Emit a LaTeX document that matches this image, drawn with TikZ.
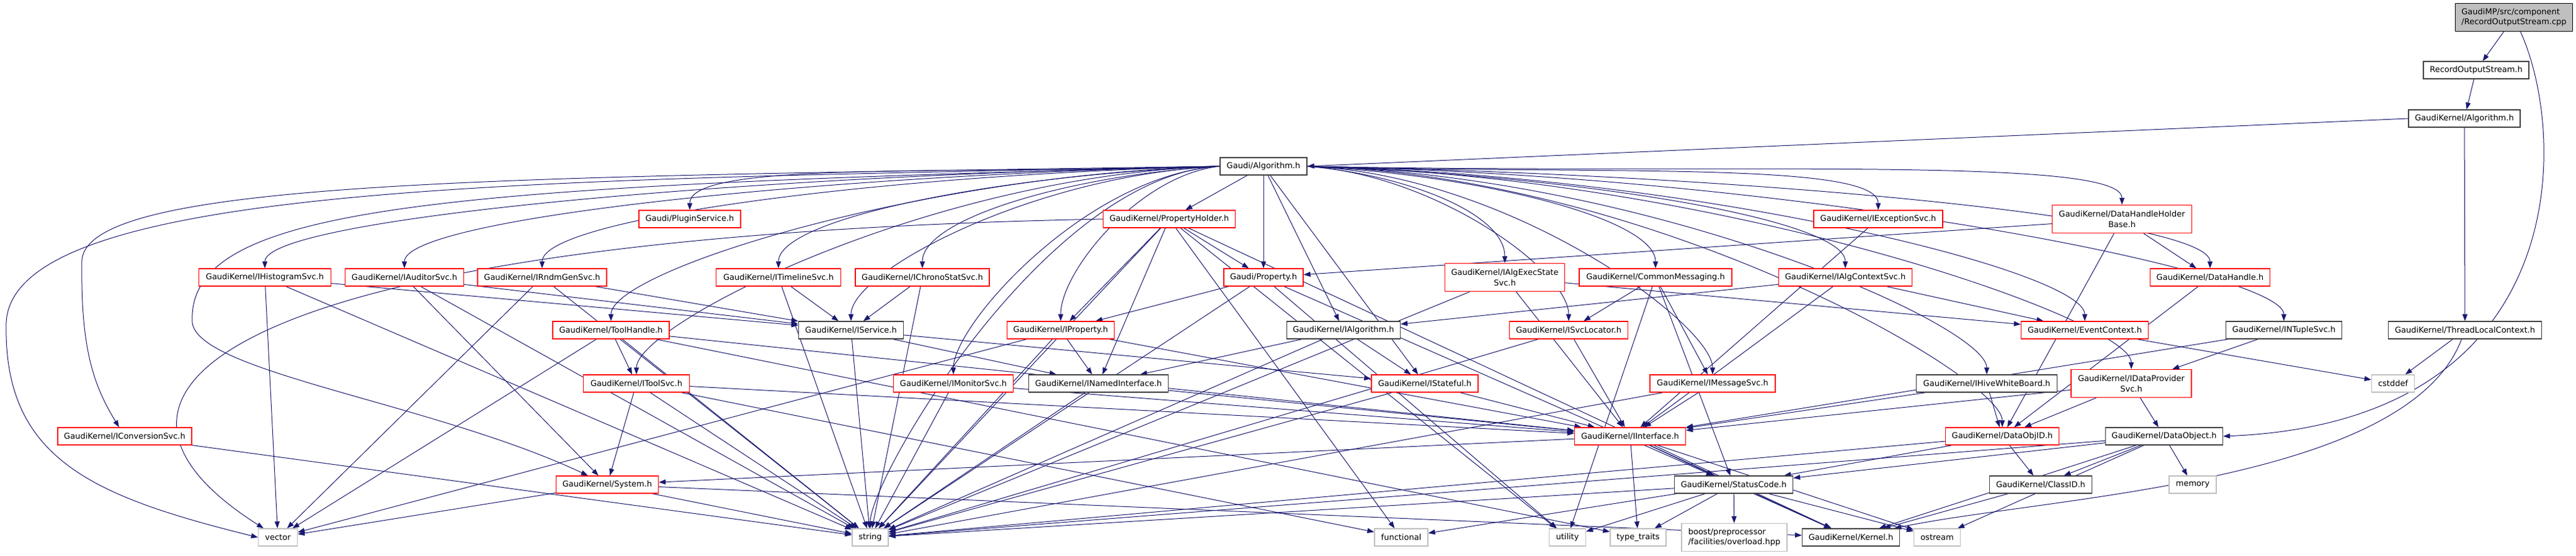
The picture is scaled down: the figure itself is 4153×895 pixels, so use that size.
\documentclass[tikz,border=0pt]{standalone}
\usepackage{fontspec}
\setmainfont{DejaVu Sans}
\usetikzlibrary{arrows.meta}
\definecolor{edgec}{HTML}{191970}
\definecolor{redb}{HTML}{FF0000}
\definecolor{blkb}{HTML}{404040}
\definecolor{gryb}{HTML}{BFBFBF}
\pgfdeclarelayer{bg}
\pgfdeclarelayer{paper}
\pgfsetlayers{paper,bg,main}
\newcommand\galeft[2]{\draw[e] (ga.west) .. controls +(-#2,14) and +(0,-80) .. (#1.north);}
\newcommand\garight[2]{\draw[e] (ga.east) .. controls +(#2,14) and +(0,-80) .. (#1.north);}
\begin{document}
\begin{tikzpicture}[x=1pt,y=-1pt,
  box/.style={rectangle, draw, fill=white, line width=1.3pt, inner sep=0pt, minimum height=28pt, font=\fontsize{13}{16.5}\selectfont, align=center},
  rn/.style={box, draw=redb},
  bn/.style={box, draw=blkb},
  gn/.style={box, draw=gryb},
  e/.style={draw=edgec, line width=1pt, -{Triangle[length=11pt,width=8pt]}}]
\begin{pgfonlayer}{paper}
\fill[white] (0,0) rectangle (4153,895);
\end{pgfonlayer}
\useasboundingbox (0,0) rectangle (4153,895);
% rank 0-3
\node[box, fill=gryb, draw=black, minimum width=189pt, minimum height=45pt, align=left] (cpp) at (4053,28) {GaudiMP/src/component\\/RecordOutputStream.cpp};
\node[bn, minimum width=170pt] (ros) at (3992,113) {RecordOutputStream.h};
\node[bn, minimum width=180pt] (gkalg) at (3973,191) {GaudiKernel/Algorithm.h};
\node[bn, minimum width=140pt] (ga) at (2037,268) {Gaudi/Algorithm.h};
% rank 4
\node[rn, minimum width=164pt] (plugin) at (1112,353) {Gaudi/PluginService.h};
\node[rn, minimum width=213pt] (propholder) at (1885,353) {GaudiKernel/PropertyHolder.h};
\node[rn, minimum width=208pt] (iexc) at (3028,353) {GaudiKernel/IExceptionSvc.h};
\node[rn, minimum width=225pt, minimum height=45pt] (dhhb) at (3421,353) {GaudiKernel/DataHandleHolder\\Base.h};
% rank 5
\node[rn, minimum width=213pt] (ihist) at (427,447) {GaudiKernel/IHistogramSvc.h};
\node[rn, minimum width=191pt] (iaud) at (652,447) {GaudiKernel/IAuditorSvc.h};
\node[rn, minimum width=208pt] (irndm) at (874,447) {GaudiKernel/IRndmGenSvc.h};
\node[rn, minimum width=201pt] (itime) at (1255,447) {GaudiKernel/ITimelineSvc.h};
\node[rn, minimum width=216pt] (ichrono) at (1487,447) {GaudiKernel/IChronoStatSvc.h};
\node[rn, minimum width=128pt] (prop) at (2037,447) {Gaudi/Property.h};
\node[rn, minimum width=193pt, minimum height=45pt] (iaes) at (2426,447) {GaudiKernel/IAlgExecState\\Svc.h};
\node[rn, minimum width=246pt] (cmsg) at (2669,447) {GaudiKernel/CommonMessaging.h};
\node[rn, minimum width=215pt] (iactx) at (2975,447) {GaudiKernel/IAlgContextSvc.h};
\node[rn, minimum width=193pt] (dh) at (3563,447) {GaudiKernel/DataHandle.h};
% rank 6
\node[rn, minimum width=188pt] (toolh) at (985,532) {GaudiKernel/ToolHandle.h};
\node[bn, minimum width=169pt] (isvc) at (1372,532) {GaudiKernel/IService.h};
\node[rn, minimum width=173pt] (iprop) at (1710,532) {GaudiKernel/IProperty.h};
\node[bn, minimum width=183pt] (ialg) at (2166,532) {GaudiKernel/IAlgorithm.h};
\node[rn, minimum width=191pt] (isl) at (2529,532) {GaudiKernel/ISvcLocator.h};
\node[rn, minimum width=205pt] (evctx) at (3361,532) {GaudiKernel/EventContext.h};
\node[bn, minimum width=187pt] (intup) at (3682,532) {GaudiKernel/INTupleSvc.h};
\node[bn, minimum width=247pt] (tlc) at (3974,532) {GaudiKernel/ThreadLocalContext.h};
% rank 7
\node[rn, minimum width=171pt] (itool) at (1026,618) {GaudiKernel/IToolSvc.h};
\node[rn, minimum width=193pt] (imon) at (1537,618) {GaudiKernel/IMonitorSvc.h};
\node[bn, minimum width=225pt] (inamed) at (1771,618) {GaudiKernel/INamedInterface.h};
\node[rn, minimum width=172pt] (istate) at (2297,618) {GaudiKernel/IStateful.h};
\node[rn, minimum width=202pt] (imsg) at (2761,618) {GaudiKernel/IMessageSvc.h};
\node[bn, minimum width=227pt] (ihive) at (3203,618) {GaudiKernel/IHiveWhiteBoard.h};
\node[rn, minimum width=194pt, minimum height=45pt] (idp) at (3436,618) {GaudiKernel/IDataProvider\\Svc.h};
\node[gn, minimum width=69pt] (cstddef) at (3858,618) {cstddef};
% rank 8
\node[rn, minimum width=216pt] (iconv) at (201,703) {GaudiKernel/IConversionSvc.h};
\node[rn, minimum width=179pt] (iif) at (2628,703) {GaudiKernel/IInterface.h};
\node[rn, minimum width=183pt] (doid) at (3228,703) {GaudiKernel/DataObjID.h};
\node[bn, minimum width=189pt] (dobj) at (3489,703) {GaudiKernel/DataObject.h};
% rank 9
\node[rn, minimum width=165pt] (system) at (979,781) {GaudiKernel/System.h};
\node[bn, minimum width=191pt] (sc) at (2795,781) {GaudiKernel/StatusCode.h};
\node[bn, minimum width=165pt] (classid) at (3290,781) {GaudiKernel/ClassID.h};
\node[gn, minimum width=76pt] (memory) at (3535,781) {memory};
% rank 10
\node[gn, minimum width=63pt] (vector) at (448,866) {vector};
\node[gn, minimum width=58pt] (string) at (1403,866) {string};
\node[gn, minimum width=86pt] (functional) at (2259,866) {functional};
\node[gn, minimum width=59pt] (utility) at (2527,866) {utility};
\node[gn, minimum width=90pt] (typetraits) at (2641,866) {type\_traits};
\node[gn, minimum width=170pt, minimum height=45pt, align=left] (boost) at (2796,866) {boost/preprocessor\\/facilities/overload.hpp};
\node[bn, minimum width=157pt] (kernel) at (2984,866) {GaudiKernel/Kernel.h};
\node[gn, minimum width=75pt] (ostream) at (3123,866) {ostream};

\begin{pgfonlayer}{bg}
\foreach \a/\b in {cpp/ros, ros/gkalg, gkalg/tlc, tlc/cstddef,
  ga/propholder, ga/prop, ga/ialg, ga/istate,
  propholder/prop, propholder/iprop, propholder/inamed, propholder/string,
  propholder/functional, propholder/utility, propholder/kernel,
  iexc/iif, dhhb/dh, dhhb/prop, dhhb/doid, dh/doid,
  ihist/isvc, ihist/vector, ihist/string,
  iaud/isvc, iaud/system, iaud/string,
  irndm/isvc, irndm/vector, irndm/string,
  itime/isvc, itime/string, ichrono/isvc, ichrono/string,
  prop/iprop, prop/string, prop/utility, prop/sc,
  iaes/evctx, iaes/iif, iaes/string,
  cmsg/imsg, cmsg/isl, cmsg/sc, cmsg/utility,
  iactx/ialg, iactx/iif, iactx/evctx,
  toolh/itool, toolh/vector, toolh/string, toolh/iif, toolh/typetraits,
  itool/system, itool/string, itool/iif, itool/functional,
  isvc/inamed, isvc/istate, isvc/string,
  iprop/inamed, iprop/iif, iprop/string, iprop/vector,
  ialg/istate, ialg/inamed, ialg/string,
  isl/iif, isl/string, evctx/cstddef, intup/idp, intup/iif,
  imon/string, imon/iif, inamed/iif, inamed/string,
  istate/iif, istate/string, imsg/iif, imsg/string,
  ihive/iif, ihive/doid, idp/dobj, idp/iif, idp/doid,
  iconv/string,
  iif/system, iif/sc, iif/kernel, iif/typetraits, iif/ostream,
  doid/classid, doid/sc, doid/string,
  dobj/classid, dobj/memory, dobj/sc, dobj/ostream, dobj/string, dobj/kernel,
  system/kernel, system/string, system/vector,
  sc/boost, sc/kernel, sc/ostream, sc/typetraits, sc/utility, sc/functional, sc/string,
  classid/kernel}
  \draw[e] (\a) -- (\b);
% Gaudi/Algorithm.h fan-out, left
\galeft{plugin}{430}
\galeft{ihist}{770}
\galeft{iaud}{650}
\galeft{irndm}{550}
\galeft{itime}{360}
\galeft{ichrono}{240}
\galeft{toolh}{490}
\galeft{isvc}{300}
\galeft{iprop}{130}
\galeft{itool}{470}
\galeft{imon}{215}
\galeft{string}{280}
% Gaudi/Algorithm.h fan-out, right
\garight{iexc}{460}
\garight{dhhb}{660}
\garight{iaes}{160}
\garight{cmsg}{280}
\garight{iactx}{430}
\garight{dh}{730}
\garight{intup}{790}
\garight{evctx}{630}
\garight{isl}{210}
\garight{imsg}{330}
\garight{ihive}{550}
\garight{idp}{660}
\garight{doid}{560}
\draw[e] (gkalg.west) -- (ga.east);
\draw[e] (cpp) .. controls (4140,220) and (4150,680) .. (dobj.east);
\draw[e] (tlc) .. controls (3880,780) and (3300,800) .. (kernel);
\draw[e] (ga.west) .. controls (900,290) and (20,290) .. (10,520) .. controls (5,740) and (150,800) .. (vector.west);
\draw[e] (ga.west) .. controls (800,285) and (140,290) .. (132,420) .. controls (130,560) and (150,620) .. (iconv);
\draw[e] (ga.west) .. controls (700,300) and (300,330) .. (310,520) .. controls (320,600) and (700,650) .. (system);
\draw[e] (propholder.west) .. controls (400,380) and (60,620) .. (vector);
\end{pgfonlayer}
\end{tikzpicture}
\end{document}
